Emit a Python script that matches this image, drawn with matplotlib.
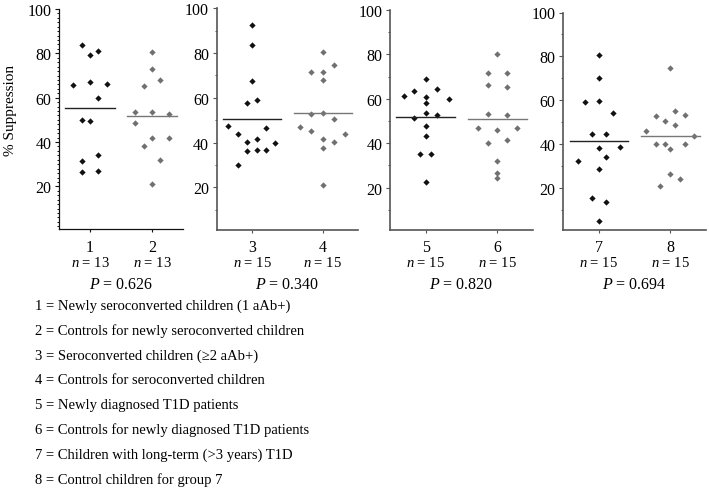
import numpy as np
import matplotlib
matplotlib.use("Agg")
import matplotlib.pyplot as plt
from matplotlib.ticker import MultipleLocator

plt.rcParams['font.family'] = ['Liberation Serif', 'DejaVu Serif']
plt.rcParams['mathtext.fontset'] = 'custom'
plt.rcParams['mathtext.rm'] = 'Liberation Serif'
plt.rcParams['mathtext.it'] = 'Liberation Serif:italic'

# % suppression per group
g1 = [83.9, 79.4, 80.9, 65.8, 66.9, 66.3, 59.7, 50.1, 49.3, 34.0, 31.5, 26.7, 27.0]
g2 = [80.4, 73.0, 65.2, 67.8, 53.4, 53.7, 52.7, 48.8, 38.4, 41.6, 41.6, 32.1, 21.0]
g3 = [92.7, 83.4, 67.5, 57.7, 58.9, 47.4, 43.7, 40.4, 41.6, 46.4, 39.9, 36.2, 36.8, 36.8, 30.0]
g4 = [80.3, 71.7, 71.7, 74.6, 67.8, 52.6, 53.3, 50.4, 46.9, 45.3, 44.0, 41.6, 40.1, 37.7, 21.0]
g5 = [68.9, 61.2, 63.3, 61.0, 64.4, 60.0, 58.2, 53.6, 52.9, 51.5, 47.8, 43.3, 35.0, 35.2, 22.6]
g6 = [80.3, 71.7, 71.7, 66.3, 65.3, 53.3, 52.7, 46.7, 46.1, 46.7, 40.1, 41.6, 32.0, 26.8, 24.5]
g7 = [80.8, 70.3, 59.1, 59.7, 54.2, 44.7, 44.8, 38.3, 38.9, 32.4, 34.1, 28.8, 15.5, 13.8, 5.2]
g8 = [74.7, 52.7, 50.6, 55.3, 53.3, 46.1, 48.8, 43.9, 40.2, 40.0, 37.7, 40.0, 26.7, 24.4, 21.1]

# horizontal jitter of each point (x units)
j1 = [-0.13, 0, 0.13, -0.27, 0, 0.27, 0.13, -0.13, 0, 0.13, -0.13, -0.13, 0.13]
j2 = [0, 0, -0.13, 0.13, -0.27, 0, 0.27, -0.27, -0.13, 0, 0.27, 0.13, 0]
j3 = [0, 0, 0, -0.07, 0.07, -0.34, -0.2, -0.07, 0.07, 0.2, 0.33, -0.07, 0.07, 0.2, -0.2]
j4 = [0, -0.16, 0, 0.16, 0, -0.16, 0, 0.16, -0.32, -0.16, 0.32, 0, 0.16, 0, 0]
j5 = [0, -0.31, -0.16, 0, 0.16, 0.32, 0, 0, 0.16, -0.16, 0, 0, -0.08, 0.08, 0]
j6 = [0, -0.13, 0.13, -0.13, 0.13, -0.13, 0.13, -0.27, 0, 0.27, -0.13, 0.13, 0, 0, 0]
j7 = [0, 0, -0.2, 0, 0.2, -0.1, 0.1, 0, 0.3, -0.3, 0.1, 0, -0.1, 0.1, 0]
j8 = [0, -0.2, -0.07, 0.07, 0.2, -0.34, 0.07, 0.33, -0.2, -0.07, 0, 0.2, 0, 0.14, -0.14]

groups = [g1, g2, g3, g4, g5, g6, g7, g8]
jitters = [j1, j2, j3, j4, j5, j6, j7, j8]
p_values = ['0.626', '0.340', '0.820', '0.694']
legend_lines = [
    '1 = Newly seroconverted children (1 aAb+)',
    '2 = Controls for newly seroconverted children',
    '3 = Seroconverted children (\u22652 aAb+)',
    '4 = Controls for seroconverted children',
    '5 = Newly diagnosed T1D patients',
    '6 = Controls for newly diagnosed T1D patients',
    '7 = Children with long-term (>3 years) T1D',
    '8 = Control children for group 7',
]

W, H = 709, 489
fig = plt.figure(figsize=(W / 100, H / 100), dpi=100)

# panel boxes in pixels: left, right, top, bottom
boxes = [(59, 183, 10, 229.5), (216.7, 358, 9.2, 231),
         (390, 533, 10.8, 231), (563.3, 706, 13.5, 231)]
spine_col = ['#111111', '#555555', '#555555', '#555555']

for k, (l, r, t, b) in enumerate(boxes):
    ax = fig.add_axes([l / W, 1 - b / H, (r - l) / W, (b - t) / H])
    ax.set_xlim(0.5, 2.5)
    ax.set_ylim(1, 100)
    for s in ['top', 'right']:
        ax.spines[s].set_visible(False)
    for s in ['left', 'bottom']:
        ax.spines[s].set_color(spine_col[k])
        ax.spines[s].set_linewidth(0.9 if k == 0 else 1.2)

    for i in range(2):
        gi = 2 * k + i
        vals = np.array(groups[gi])
        xs = (i + 1) + np.array(jitters[gi])
        col = '#111111' if i == 0 else '#707070'
        ax.plot(xs, vals, linestyle='none', marker='D', markersize=3.2,
                color=col, markeredgewidth=0)
        m = vals.mean()
        ax.plot([i + 1 - 0.41, i + 1 + 0.41], [m, m],
                color='#222222' if i == 0 else '#777777', lw=1.0)
        ax.annotate(str(gi + 1), xy=(i + 1, 0), xycoords=('data', 'axes fraction'),
                    xytext=(0, -(248 - b) * 0.72), textcoords='offset points',
                    ha='center', va='center', fontsize=11.5)
        ax.annotate('$n$ = %d' % len(vals), xy=(i + 1, 0),
                    xycoords=('data', 'axes fraction'),
                    xytext=(0, -(263 - b) * 0.72), textcoords='offset points',
                    ha='center', va='center', fontsize=10.5)

    ax.annotate('$P$ = ' + p_values[k], xy=(1.5, 0), xycoords=('data', 'axes fraction'),
                xytext=(0, -(285 - b) * 0.72), textcoords='offset points',
                ha='center', va='center', fontsize=11.5)

    ax.set_xticks([1, 2])
    ax.set_xticklabels([])
    ax.tick_params(axis='x', length=2.5, width=0.8, color=spine_col[k])
    ax.yaxis.set_major_locator(MultipleLocator(20))
    ax.yaxis.set_minor_locator(MultipleLocator(2 if k == 0 else 10))
    ax.set_yticks([20, 40, 60, 80, 100])
    ax.tick_params(axis='y', which='major', length=3, width=0.8, pad=2.5,
                   labelsize=11.5, color=spine_col[k])
    ax.tick_params(axis='y', which='minor', length=1.8, width=0.7, color=spine_col[k])

fig.text(11 / W, 1 - 110 / H, '% Suppression', rotation=90, ha='center', va='center',
         fontsize=11)

for i, line in enumerate(legend_lines):
    fig.text(35 / W, 1 - (306 + 24.9 * i) / H, line, ha='left', va='center', fontsize=10.5)

fig.savefig('out.png', dpi=100)
